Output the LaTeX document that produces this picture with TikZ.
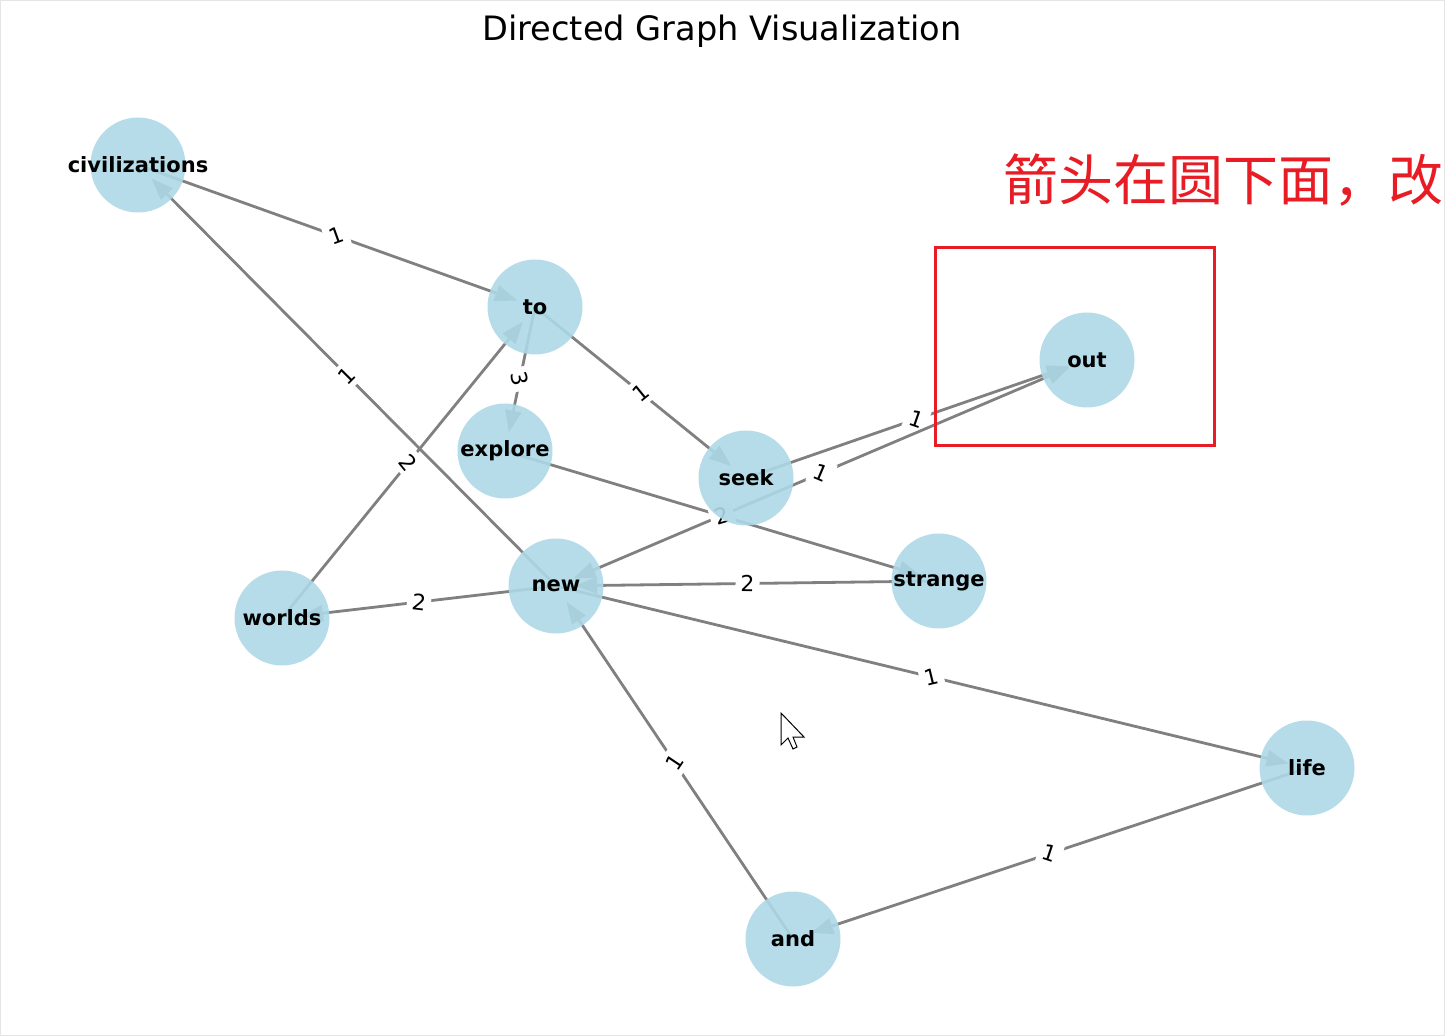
\documentclass[tikz,border=0pt]{standalone}
\usepackage{fontspec}
\setmainfont{DejaVu Sans}
\newfontfamily\cjk{Noto Sans CJK SC}
\usepackage{xcolor}
\usetikzlibrary{arrows.meta}
\definecolor{nodeblue}{RGB}{173,216,230}
\definecolor{edgegray}{RGB}{128,128,128}
\definecolor{markred}{RGB}{232,28,36}
\pgfdeclarelayer{background}
\pgfsetlayers{background,main}
\tikzset{
  vertex/.style={circle, fill=nodeblue, fill opacity=0.9, text opacity=1, minimum size=47.5pt, inner sep=0pt, font=\bfseries\fontsize{10.5}{12}\selectfont},
  edge/.style={draw=edgegray, line width=1.4pt, shorten >=9.5pt, -{Triangle[length=11pt,width=8pt]}},
  wlabel/.style={midway, sloped, fill=white, inner sep=2.5pt, font=\fontsize{11}{13}\selectfont}
}
\begin{document}
\begin{tikzpicture}[x=0.5pt,y=0.5pt,yscale=-1,xscale=1]
        \useasboundingbox (0,0) rectangle (1445,1036);
        %Shape: Rectangle (frame)
        \draw [color=black!10, line width=0.5pt] (0.5,0.5) rectangle (1444.5,1035.5);

        % Text Node
        \draw (722,31) node [inner sep=0.75pt] (title) {\fontsize{16.8}{20}\selectfont Directed Graph Visualization};

        %Shape: Circle
        \node [vertex] (civilizations) at (138,165) {\makebox[0pt]{civilizations}};
        \node [vertex] (to) at (535,307) {to};
        \node [vertex] (out) at (1087,360) {out};
        \node [vertex] (explore) at (505,451) {explore};
        \node [vertex] (seek) at (746,478) {seek};
        \node [vertex] (strange) at (939,581) {strange};
        \node [vertex] (new) at (556,586) {new};
        \node [vertex] (worlds) at (282,618) {worlds};
        \node [vertex] (life) at (1307,768) {life};
        \node [vertex] (and) at (793,939) {and};

        % Edges, below the circles
        \begin{pgfonlayer}{background}
        \draw [edge] (civilizations.center) -- (to.center) node [wlabel] {1};
        \draw [edge] (new.center) -- (civilizations.center) node [wlabel] {1};
        \draw [edge] (to.center) -- (explore.center) node [wlabel] {3};
        \draw [edge] (worlds.center) -- (to.center) node [wlabel] {2};
        \draw [edge] (to.center) -- (seek.center) node [wlabel] {1};
        \draw [edge] (seek.center) -- (out.center) node [wlabel] {1};
        \draw [edge, shorten <=9.5pt, {Triangle[length=11pt,width=8pt]}-{Triangle[length=11pt,width=8pt]}] (new.center) -- (out.center) node [wlabel] {1};
        \draw [edge] (explore.center) -- (strange.center) node [wlabel] {2};
        \draw [edge] (strange.center) -- (new.center) node [wlabel] {2};
        \draw [edge] (new.center) -- (worlds.center) node [wlabel] {2};
        \draw [edge] (new.center) -- (life.center) node [wlabel] {1};
        \draw [edge] (and.center) -- (new.center) node [wlabel] {1};
        \draw [edge] (life.center) -- (and.center) node [wlabel] {1};
        \end{pgfonlayer}

        %Shape: Rectangle (red mark)
        \draw [color=markred, line width=1.5pt] (935,248) rectangle (1214,446);
        % Text Node
        \draw (1003,180) node [anchor=west, inner sep=0pt, text=markred] (note) {\cjk\fontsize{27.5}{30}\selectfont 箭头在圆下面，改};

        %Shape: Cursor
        \draw [fill=white, line width=0.5pt, line join=miter] (781,713) -- (781,745) -- (788,738) -- (793,749) -- (797,747) -- (793,737) -- (804,737) -- cycle;
\end{tikzpicture}
\end{document}
